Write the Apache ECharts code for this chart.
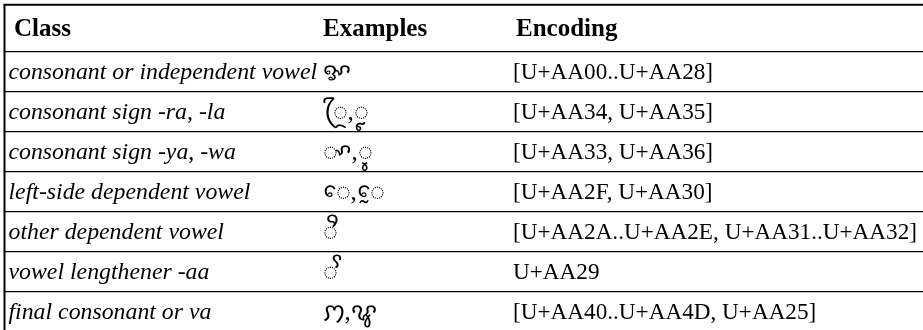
<!DOCTYPE html>
<html>
<head>
<meta charset="utf-8">
<script src="https://cdn.jsdelivr.net/npm/echarts@6/dist/echarts.min.js"></script>
<style>
html,body{margin:0;padding:0;background:#fff;}
#chart{width:923px;height:330px;}
</style>
</head>
<body>
<div id="chart"></div>
<script>
// ---- data ----
const headers = ['Class', 'Examples', 'Encoding'];
const classes = [
  'consonant or independent vowel',
  'consonant sign -ra, -la',
  'consonant sign -ya, -wa',
  'left-side dependent vowel',
  'other dependent vowel',
  'vowel lengthener -aa',
  'final consonant or va'
];
const examples = [
  '\uAA00',
  '\u25CC\uAA34,\u25CC\uAA35',
  '\u25CC\uAA33,\u25CC\uAA36',
  '\u25CC\uAA2F,\u25CC\uAA30',
  '\u25CC\uAA2A',
  '\u25CC\uAA29',
  '\uAA40,\uAA25'
];
const encodings = [
  '[U+AA00..U+AA28]',
  '[U+AA34, U+AA35]',
  '[U+AA33, U+AA36]',
  '[U+AA2F, U+AA30]',
  '[U+AA2A..U+AA2E, U+AA31..U+AA32]',
  'U+AA29',
  '[U+AA40..U+AA4D, U+AA25]'
];

// ---- layout (not data) ----
const W = 923, H = 330;
const TOP = 4.7;            // px of top border
const LEFT = 4.5;           // px of left border
const ROW_PX = 40;          // body row height
const HEADER_U = 47 / 40;   // header height in row units
const Y_MAX = (H - TOP) / ROW_PX - HEADER_U;
const X_MAX = W - LEFT;
const headerX = [9.5, 318.5, 511.5];
const bodyX = [4, 318, 508.5];
const SERIF = '"Liberation Serif", "Times New Roman", serif';
const headerFont = 'bold 25px ' + SERIF;
const fonts = ['italic 23.8px ' + SERIF, '25px ' + SERIF, '23.2px ' + SERIF];
const TEXT_DY = 1.5;

const rowIdx = classes.map((c, i) => i);
const boundaries = [0].concat(rowIdx.slice(0, -1).map(i => i + 1));

const chart = echarts.init(document.getElementById('chart'), null, {renderer: 'canvas'});
chart.setOption({
  animation: false,
  backgroundColor: '#fff',
  grid: {left: LEFT, right: 0, top: TOP, bottom: 0, containLabel: false},
  xAxis: {type: 'value', min: 0, max: X_MAX, show: false},
  yAxis: {type: 'value', min: -HEADER_U, max: Y_MAX, inverse: true, show: false},
  series: [
    {
      type: 'custom',
      data: boundaries.map(b => [b]),
      silent: true,
      renderItem: function (params, api) {
        const v = api.value(0);
        const p1 = api.coord([0, v]);
        const p2 = api.coord([X_MAX, v]);
        return {type: 'line', shape: {x1: p1[0], y1: p1[1], x2: p2[0], y2: p2[1]},
          style: {stroke: '#000', lineWidth: 1.3}};
      }
    },
    {
      type: 'custom',
      data: [[0]],
      silent: true,
      renderItem: function (params, api) {
        const tl = api.coord([0, -HEADER_U]);
        const tr = api.coord([X_MAX, -HEADER_U]);
        const bl = api.coord([0, Y_MAX]);
        return {type: 'group', children: [
          {type: 'line', shape: {x1: tl[0] - 1, y1: tl[1], x2: tr[0], y2: tr[1]}, style: {stroke: '#000', lineWidth: 2}},
          {type: 'line', shape: {x1: tl[0], y1: tl[1], x2: bl[0], y2: bl[1]}, style: {stroke: '#000', lineWidth: 2}}
        ]};
      }
    },
    {
      type: 'custom',
      data: [[-1]],
      silent: true,
      renderItem: function (params, api) {
        const y = api.coord([0, -HEADER_U / 2])[1] + TEXT_DY;
        return {type: 'group', children: headers.map((h, j) => ({
          type: 'text', x: api.coord([headerX[j], 0])[0], y: y,
          style: {text: h, font: headerFont, fill: '#000', align: 'left', verticalAlign: 'middle'}
        }))};
      }
    },
    {
      type: 'custom',
      data: rowIdx.map(i => [i]),
      silent: true,
      renderItem: function (params, api) {
        const i = api.value(0);
        const y = api.coord([0, i + 0.5])[1] + TEXT_DY;
        const texts = [classes[i], examples[i], encodings[i]];
        return {type: 'group', children: texts.map((t, j) => ({
          type: 'text', x: api.coord([bodyX[j], 0])[0], y: y,
          style: {text: t, font: fonts[j], fill: '#000', align: 'left', verticalAlign: 'middle'}
        }))};
      }
    }
  ]
});
</script>
</body>
</html>
